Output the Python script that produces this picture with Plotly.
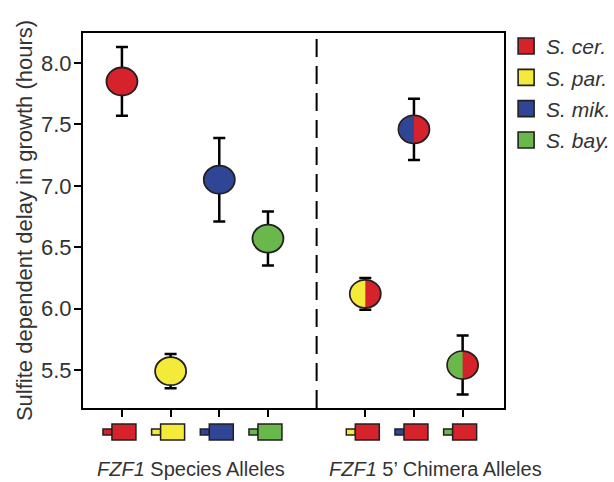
import plotly.graph_objects as go

# ---- data ----
species_names = ["S. cer.", "S. par.", "S. mik.", "S. bay."]
species_colors = ["#d5222b", "#f4ea3a", "#2f4697", "#69b84b"]
species_pos = [1, 2, 3, 4]
species_delay = [7.85, 5.49, 7.05, 6.57]
species_err = [0.28, 0.14, 0.34, 0.22]

chimera_species = [1, 2, 3]  # index into species (par, mik, bay) with S. cer. 3' part
chimera_pos = [6, 7, 8]
chimera_delay = [6.12, 7.46, 5.54]
chimera_err = [0.13, 0.25, 0.24]

divider_pos = 5
yticks = [5.5, 6.0, 6.5, 7.0, 7.5, 8.0]

# ---- style ----
W, H = 614, 482
ML, MR, MT, MB = 83, 110, 33, 74
XR = [0.2, 8.85]
YR = [5.19, 8.245]
OUT = "#231f20"
RX, RY = 15.5, 14.0   # marker half-width / half-height in px
FONT = "Liberation Sans, Arial, sans-serif"
TXT = "#333333"

fig = go.Figure()

# error bars (markers drawn as shapes on top)
fig.add_trace(go.Scatter(
    x=species_pos + chimera_pos, y=species_delay + chimera_delay, mode="markers",
    showlegend=False, hoverinfo="skip",
    error_y=dict(type="data", array=species_err + chimera_err, color="black",
                 thickness=2.5, width=6),
    marker=dict(size=2, color="rgba(0,0,0,0)"),
))

def ellipse(xc, yc, col):
    fig.add_shape(type="circle", xref="x", yref="y", xsizemode="pixel", ysizemode="pixel",
                  xanchor=xc, yanchor=yc, x0=-RX, x1=RX, y0=-RY, y1=RY,
                  fillcolor=col, line=dict(color=OUT, width=1.8), layer="above")

for xi, yi, col in zip(species_pos, species_delay, species_colors):
    ellipse(xi, yi, col)

red = species_colors[0]
rx, ry = RX - 0.8, RY - 0.8
kx, ky = 0.5523 * rx, 0.5523 * ry
half_path = (f"M 0,{ry} C {-kx},{ry} {-rx},{ky} {-rx},0 "
             f"C {-rx},{-ky} {-kx},{-ry} 0,{-ry} Z")
for xi, yi, si in zip(chimera_pos, chimera_delay, chimera_species):
    ellipse(xi, yi, red)
    fig.add_shape(type="path", xref="x", yref="y", xsizemode="pixel", ysizemode="pixel",
                  xanchor=xi, yanchor=yi, path=half_path,
                  fillcolor=species_colors[si], line=dict(width=0), layer="above")

# legend entries
for name, col in zip(species_names, species_colors):
    fig.add_trace(go.Scatter(
        x=[None], y=[None], mode="markers", name=f"<i>{name}</i>",
        legendgroup=name,
        marker=dict(symbol="square", size=16, color=col, line=dict(color=OUT, width=1.6)),
    ))

# divider
fig.add_shape(type="line", xref="x", yref="paper", x0=divider_pos, x1=divider_pos, y0=0, y1=1,
              line=dict(color="black", width=2, dash="18px,9px"))

# gene icons below axis
def icon(xc, small_col, big_col):
    fig.add_shape(type="rect", xref="x", yref="paper", xsizemode="pixel", ysizemode="pixel",
                  xanchor=xc, yanchor=0, x0=-19, x1=-10, y0=-21, y1=-27,
                  fillcolor=small_col, line=dict(color=OUT, width=1.5), layer="above")
    fig.add_shape(type="rect", xref="x", yref="paper", xsizemode="pixel", ysizemode="pixel",
                  xanchor=xc, yanchor=0, x0=-10, x1=14, y0=-16, y1=-32,
                  fillcolor=big_col, line=dict(color=OUT, width=1.5), layer="above")

for xi, col in zip(species_pos, species_colors):
    icon(xi, col, col)
for xi, si in zip(chimera_pos, chimera_species):
    icon(xi, species_colors[si], red)

# group labels
fig.add_annotation(x=2.42, y=0, xref="x", yref="paper", yshift=-74, showarrow=False,
                   text="<i>FZF1</i> Species Alleles", font=dict(size=20, color=TXT, family=FONT))
fig.add_annotation(x=7.45, y=0, xref="x", yref="paper", yshift=-74, showarrow=False,
                   text="<i>FZF1</i> 5’ Chimera Alleles", font=dict(size=20, color=TXT, family=FONT))

fig.update_layout(
    width=W, height=H, margin=dict(l=ML, r=MR, t=MT, b=MB, autoexpand=False),
    paper_bgcolor="white", plot_bgcolor="white",
    font=dict(family=FONT, color=TXT),
    legend=dict(x=1.005, xanchor="left", y=1.019, yanchor="top", font=dict(size=21, color=TXT),
                itemwidth=30, tracegroupgap=1, traceorder="grouped", bgcolor="rgba(0,0,0,0)"),
    xaxis=dict(range=XR, tickvals=species_pos + chimera_pos, ticktext=[""] * 7,
               ticks="outside", ticklen=7, tickwidth=2, tickcolor="black",
               showline=True, linecolor="black", linewidth=2, mirror=True,
               showgrid=False, zeroline=False, automargin=False),
    yaxis=dict(range=YR, tickvals=yticks, tickformat=".1f", ticks="outside", ticklen=7,
               tickwidth=1.5, tickcolor="black", tickfont=dict(size=22, color=TXT),
               ticklabelstandoff=-2,
               showline=True, linecolor="black", linewidth=2, mirror=True,
               showgrid=False, zeroline=False, automargin=False,
               title=dict(text="Sulfite dependent delay in growth (hours)",
                          font=dict(size=22, color=TXT), standoff=2)),
)

fig.write_html("out.html", config={"displayModeBar": False},
               post_script="document.body.style.margin='0';")
